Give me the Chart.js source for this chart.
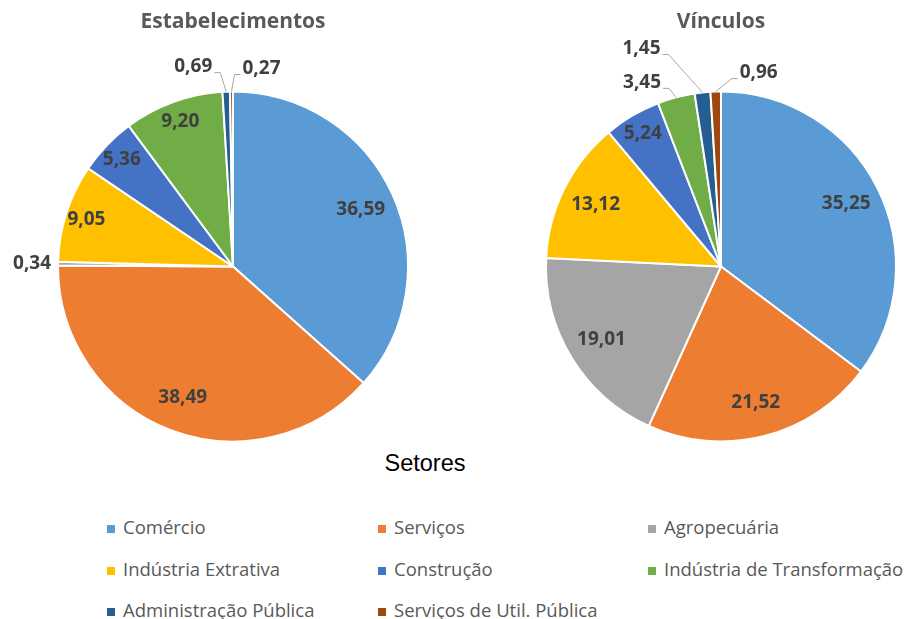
<!DOCTYPE html>
<html>
<head>
<meta charset="utf-8">
<script src="https://cdn.jsdelivr.net/npm/chart.js@4.4.1/dist/chart.umd.min.js"></script>
<style>
	body { margin: 0; background: #fff; width: 912px; height: 619px; overflow: hidden; position: relative; font-family: "Open Sans", sans-serif; }
	canvas { position: absolute; top: 0; }
	.title { position: absolute; top: 6px; font-weight: bold; font-size: 21px; line-height: 28px; color: #595959; transform: translateX(-50%); white-space: nowrap; }
	#setores { position: absolute; left: 425px; top: 450px; line-height: 27px; transform: translateX(-50%); font-family: "Liberation Sans", Arial, sans-serif; font-size: 23.5px; color: #000; }
	.leg { position: absolute; font-size: 18.5px; line-height: 24px; color: #595959; white-space: nowrap; }
	.leg i { display: inline-block; width: 8px; height: 8px; margin-right: 8px; vertical-align: middle; }
</style>
</head>
<body>
<canvas id="estab" width="456" height="450" style="left:0"></canvas>
<canvas id="vinc" width="456" height="450" style="left:456px"></canvas>
<div class="title" style="left:233px">Estabelecimentos</div>
<div class="title" style="left:721px">Vínculos</div>
<div id="setores">Setores</div>
<div id="legend"></div>
<script>
(function() {
	"use strict";

	var categories = ["Comércio", "Serviços", "Agropecuária", "Indústria Extrativa", "Construção",
		"Indústria de Transformação", "Administração Pública", "Serviços de Util. Pública"];
	var estabelecimentos = [36.59, 38.49, 0.34, 9.05, 5.36, 9.20, 0.69, 0.27];
	var vinculos = [35.25, 21.52, 19.01, 13.12, 5.24, 3.45, 1.45, 0.96];
	var colors = ["#5B9BD5", "#ED7D31", "#A5A5A5", "#FFC000", "#4472C4", "#70AD47", "#255E91", "#9E480E"];

	// data labels: inside the slice, or outside with a leader line
	var pieLabels = {
		id: "pieLabels",
		afterDatasetsDraw: function(chart, args, opts) {
			var ctx = chart.ctx;
			var meta = chart.getDatasetMeta(0);
			var values = chart.data.datasets[0].data;
			ctx.save();
			ctx.font = "bold 19px 'Open Sans'";
			ctx.fillStyle = "#404040";
			ctx.textAlign = "center";
			ctx.textBaseline = "middle";
			ctx.strokeStyle = "#A6A6A6";
			ctx.lineWidth = 1;
			meta.data.forEach(function(arc, i) {
				var p = arc.getProps(["x", "y", "startAngle", "endAngle", "outerRadius"], true);
				var mid = (p.startAngle + p.endAngle) / 2;
				var text = values[i].toFixed(2).replace(".", ",");
				var out = opts.outside[i];
				if (out) {
					var ex = p.x + Math.cos(mid) * p.outerRadius;
					var ey = p.y + Math.sin(mid) * p.outerRadius;
					var lx = ex + out[0], ly = ey + out[1];
					if (out[2] !== false) {
						var w = ctx.measureText(text).width;
						var side = out[0] < 0 ? 1 : -1;
						var ax = lx + side * (w / 2 + 2), ay = ly + 6;
						ctx.beginPath();
						ctx.moveTo(ex, ey);
						ctx.lineTo(ax + side * 6, ay);
						ctx.lineTo(ax, ay);
						ctx.stroke();
					}
					ctx.fillText(text, lx, ly);
				} else {
					var f = values[i] < 10 ? 0.88 : 0.8;
					ctx.fillText(text, p.x + Math.cos(mid) * p.outerRadius * f, p.y + Math.sin(mid) * p.outerRadius * f);
				}
			});
			ctx.restore();
		}
	};

	function makePie(id, values, padding, outside) {
		return new Chart(document.getElementById(id), {
			type: "pie",
			data: {
				labels: categories,
				datasets: [{
					data: values,
					backgroundColor: colors,
					borderColor: "#fff",
					borderWidth: 2
				}]
			},
			options: {
				responsive: false,
				animation: false,
				events: [],
				layout: { padding: padding },
				plugins: {
					legend: { display: false },
					tooltip: { enabled: false },
					pieLabels: { outside: outside }
				}
			},
			plugins: [pieLabels]
		});
	}

	makePie("estab", estabelecimentos, { left: 57, right: 47, top: 90, bottom: 7 },
		{ 2: [-26, 0, false], 6: [-33, -25], 7: [30, -23] });
	makePie("vinc", vinculos, { left: 89, right: 15, top: 90, bottom: 7 },
		{ 5: [-34, -15], 6: [-61, -44], 7: [43, -19] });

	// legend, three columns
	var legend = document.getElementById("legend");
	var colX = [107, 378, 648];
	var rowY = [515, 557, 598];
	for (var i = 0; i < categories.length; i++) {
		var d = document.createElement("div");
		d.className = "leg";
		d.style.left = colX[i % 3] + "px";
		d.style.top = rowY[Math.floor(i / 3)] + "px";
		d.innerHTML = '<i style="background:' + colors[i] + '"></i>' + categories[i];
		legend.appendChild(d);
	}
}) ();
</script>
</body>
</html>
